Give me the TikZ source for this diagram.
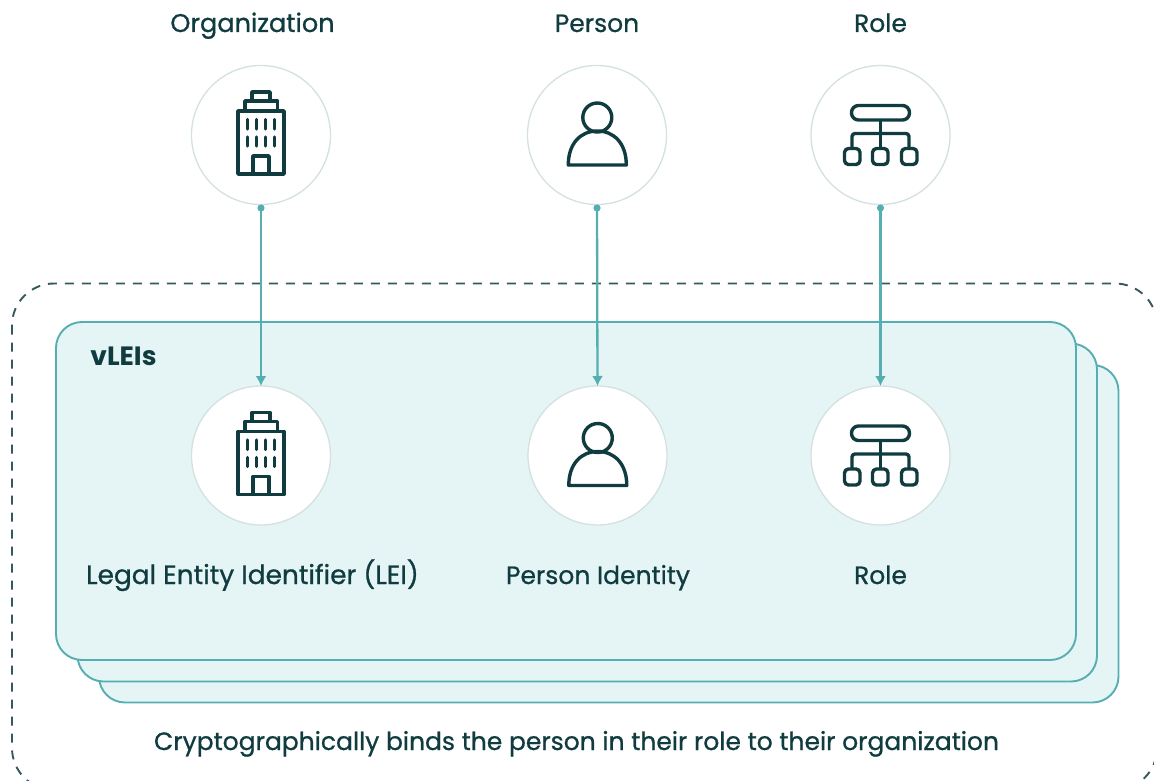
\documentclass[tikz,border=0pt]{standalone}
\usepackage{fontspec}
\setmainfont{Poppins}
\newfontfamily\medfont[FakeBold=0.8]{Poppins}
\usetikzlibrary{arrows.meta}
\definecolor{ink}{HTML}{103C40}
\definecolor{teal1}{HTML}{55AEB1}
\definecolor{cardfill}{HTML}{E5F5F6}
\definecolor{ringc}{HTML}{D3E1DF}
\tikzset{
  x=1pt,y=-1pt,
  ring/.style={circle,draw=ringc,line width=1.3pt,fill=white,minimum size=139pt,inner sep=0pt,outer sep=0pt},
  card/.style={draw=teal1,line width=1.9pt,fill=cardfill,rounded corners=26pt},
  dashbox/.style={draw=ink!85!white,line width=1.9pt,dash pattern=on 9pt off 8pt,rounded corners=42pt},
  link/.style={draw=teal1,line width=2.3pt,{Circle[length=7pt,width=7pt]}-{Latex[length=10pt,width=11pt]}},
  label/.style={text=ink,font=\medfont\fontsize{25}{29}\selectfont,inner sep=0pt,anchor=base},
  icon/.style={draw=ink,line width=3.4pt,line join=round,fill=none},
  pics/building/.style={code={
    \draw[icon] (-23,-24) rectangle (23,39);
    \draw[icon] (-16,-24) -- (-16,-34) -- (16.5,-34) -- (16.5,-24);
    \draw[icon] (-9,-34) -- (-9,-43) -- (9,-43) -- (9,-34);
    \draw[icon] (-8,39) -- (-8,21) -- (8,21) -- (8,39);
    \foreach \wx in {-13.7,-4.7,4.3,13.3}{
      \draw[icon,line cap=round] (\wx,-15.5) -- (\wx,-6);
      \draw[icon,line cap=round] (\wx,2) -- (\wx,11);
    }
  }},
  pics/persona/.style={code={
    \draw[icon] (0.3,-17.5) circle[radius=14.5pt];
    \draw[icon] (-28.7,30) .. controls (-28.7,8) and (-16,-4) .. (0.3,-4) .. controls (16.6,-4) and (29.3,8) .. (29.3,30) -- cycle;
  }},
  pics/roletree/.style={code={
    \draw[icon,rounded corners=7pt] (-29,-29.5) rectangle (29,-15);
    \draw[icon] (0,-15) -- (0,13);
    \draw[icon,rounded corners=3pt] (-28.5,13) -- (-28.5,-1.5) -- (28.5,-1.5) -- (28.5,13);
    \foreach \bx in {-36,-8,21}{
      \draw[icon,rounded corners=4pt] (\bx,13.5) rectangle ++(15.5,16);
    }
  }}
}
\begin{document}
\begin{tikzpicture}
\useasboundingbox (0,0) rectangle (1154,781);
\draw[dashbox] (12,283.5) rectangle (1157,790);
\draw[card] (99,365) rectangle (1118.5,702.5);
\draw[card] (77.5,343.5) rectangle (1097,681.5);
\draw[card] (56,322) rectangle (1076,660);
\node[ring] (o1) at (261,135) {};
\node[ring] (o2) at (597,135) {};
\node[ring] (o3) at (880.5,135) {};
\node[ring] (l1) at (261,455.5) {};
\node[ring] (l2) at (597.5,455.5) {};
\node[ring] (l3) at (880.5,455.5) {};
\draw[link] (o1.south) -- (l1.north);
\draw[link] (o2.south) -- (l2.north);
\draw[link] (o3.south) -- (l3.north);
\pic at (o1) {building};
\pic at (l1) {building};
\pic at (o2) {persona};
\pic at (l2) {persona};
\pic at (o3) {roletree};
\pic at (l3) {roletree};
\node[label,font=\medfont\fontsize{25.6}{29}\selectfont] (t1) at (252.5,32) {Organization};
\node[label] (t2) at (597,32) {Person};
\node[label] (t3) at (880.5,32) {Role};
\node[label,font=\fontsize{26.5}{29}\selectfont\bfseries] (t4) at (123.5,365.5) {vLEIs};
\node[label,font=\medfont\fontsize{26.4}{29}\selectfont] (t5) at (252.5,584) {Legal Entity Identifier (LEI)};
\node[label] (t6) at (598,584) {Person Identity};
\node[label] (t7) at (880.5,584) {Role};
\node[label] (t8) at (576.5,750) {Cryptographically binds the person in their role to their organization};
\end{tikzpicture}
\end{document}
